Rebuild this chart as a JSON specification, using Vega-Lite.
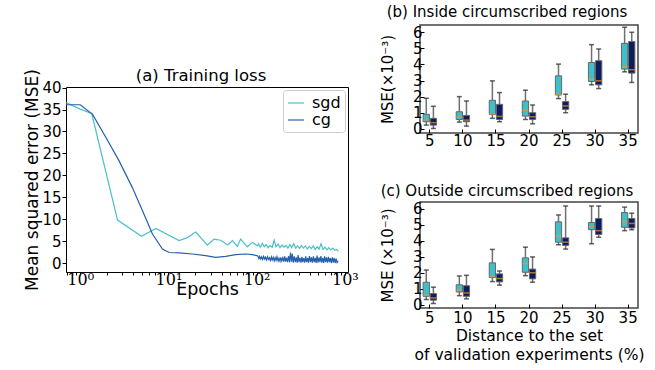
{
  "$schema": "https://vega.github.io/schema/vega-lite/v6.json",
  "padding": {"left": 23, "top": 4, "right": 0, "bottom": 0},
  "background": "white",
  "config": {
    "font": "DejaVu Sans",
    "axis": {"grid": false, "domain": false, "labelOverlap": false, "labelColor": "#000", "titleColor": "#000", "tickColor": "#000", "titleFontWeight": "normal", "labelFont": "DejaVu Sans", "titleFont": "DejaVu Sans"},
    "title": {"fontWeight": "normal", "color": "#000", "font": "DejaVu Sans"},
    "legend": {"labelColor": "#000"},
    "view": {"stroke": "#000"}
  },
  "datasets": {
    "loss": [
      {"method": "sgd", "epoch": 0.69, "mse": 36.6},
      {"method": "sgd", "epoch": 1, "mse": 35.1},
      {"method": "sgd", "epoch": 1.35, "mse": 34.1},
      {"method": "sgd", "epoch": 2.65, "mse": 9.8},
      {"method": "sgd", "epoch": 4.95, "mse": 6.1},
      {"method": "sgd", "epoch": 7.2, "mse": 7.9},
      {"method": "sgd", "epoch": 13.2, "mse": 5.1},
      {"method": "sgd", "epoch": 16.4, "mse": 5.8},
      {"method": "sgd", "epoch": 20.4, "mse": 7.05},
      {"method": "sgd", "epoch": 27.7, "mse": 4.1},
      {"method": "sgd", "epoch": 32.9, "mse": 5.45},
      {"method": "sgd", "epoch": 39, "mse": 5.2},
      {"method": "sgd", "epoch": 47.3, "mse": 4.1},
      {"method": "sgd", "epoch": 53, "mse": 5.1},
      {"method": "sgd", "epoch": 60.4, "mse": 3.8},
      {"method": "sgd", "epoch": 65.9, "mse": 5.45},
      {"method": "sgd", "epoch": 78.4, "mse": 3.7},
      {"method": "sgd", "epoch": 89.4, "mse": 4.7},
      {"method": "sgd", "epoch": 102, "mse": 3.9},
      {"method": "sgd", "epoch": 105, "mse": 4.4},
      {"method": "sgd", "epoch": 110, "mse": 3.6},
      {"method": "sgd", "epoch": 116, "mse": 4.5},
      {"method": "sgd", "epoch": 122, "mse": 3.7},
      {"method": "sgd", "epoch": 128, "mse": 4.2},
      {"method": "sgd", "epoch": 135, "mse": 3.5},
      {"method": "sgd", "epoch": 142, "mse": 4.0},
      {"method": "sgd", "epoch": 150, "mse": 3.6},
      {"method": "sgd", "epoch": 158, "mse": 5.2},
      {"method": "sgd", "epoch": 166, "mse": 3.7},
      {"method": "sgd", "epoch": 175, "mse": 4.3},
      {"method": "sgd", "epoch": 184, "mse": 3.5},
      {"method": "sgd", "epoch": 194, "mse": 4.1},
      {"method": "sgd", "epoch": 204, "mse": 3.6},
      {"method": "sgd", "epoch": 215, "mse": 4.0},
      {"method": "sgd", "epoch": 226, "mse": 3.4},
      {"method": "sgd", "epoch": 238, "mse": 4.2},
      {"method": "sgd", "epoch": 250, "mse": 3.5},
      {"method": "sgd", "epoch": 263, "mse": 4.4},
      {"method": "sgd", "epoch": 277, "mse": 3.4},
      {"method": "sgd", "epoch": 291, "mse": 3.9},
      {"method": "sgd", "epoch": 306, "mse": 3.3},
      {"method": "sgd", "epoch": 322, "mse": 4.0},
      {"method": "sgd", "epoch": 339, "mse": 3.4},
      {"method": "sgd", "epoch": 357, "mse": 3.9},
      {"method": "sgd", "epoch": 376, "mse": 3.2},
      {"method": "sgd", "epoch": 395, "mse": 3.8},
      {"method": "sgd", "epoch": 416, "mse": 3.3},
      {"method": "sgd", "epoch": 438, "mse": 3.9},
      {"method": "sgd", "epoch": 461, "mse": 3.1},
      {"method": "sgd", "epoch": 485, "mse": 3.7},
      {"method": "sgd", "epoch": 510, "mse": 3.2},
      {"method": "sgd", "epoch": 537, "mse": 4.4},
      {"method": "sgd", "epoch": 565, "mse": 3.1},
      {"method": "sgd", "epoch": 594, "mse": 3.6},
      {"method": "sgd", "epoch": 625, "mse": 3.0},
      {"method": "sgd", "epoch": 658, "mse": 3.5},
      {"method": "sgd", "epoch": 692, "mse": 3.0},
      {"method": "sgd", "epoch": 728, "mse": 3.4},
      {"method": "sgd", "epoch": 766, "mse": 2.9},
      {"method": "sgd", "epoch": 806, "mse": 3.1},
      {"method": "sgd", "epoch": 840, "mse": 2.7},
      {"method": "cg", "epoch": 0.69, "mse": 36.1},
      {"method": "cg", "epoch": 1, "mse": 36.1},
      {"method": "cg", "epoch": 1.38, "mse": 33.9},
      {"method": "cg", "epoch": 1.95, "mse": 28.7},
      {"method": "cg", "epoch": 2.76, "mse": 23.3},
      {"method": "cg", "epoch": 3.9, "mse": 17.2},
      {"method": "cg", "epoch": 5.08, "mse": 11.9},
      {"method": "cg", "epoch": 6.59, "mse": 6.6},
      {"method": "cg", "epoch": 8.55, "mse": 3.2},
      {"method": "cg", "epoch": 10.2, "mse": 2.4},
      {"method": "cg", "epoch": 13.2, "mse": 2.3},
      {"method": "cg", "epoch": 18.7, "mse": 2.05},
      {"method": "cg", "epoch": 26.4, "mse": 1.7},
      {"method": "cg", "epoch": 34.3, "mse": 1.3},
      {"method": "cg", "epoch": 44.6, "mse": 1.5},
      {"method": "cg", "epoch": 57.8, "mse": 1.9},
      {"method": "cg", "epoch": 75, "mse": 2.05},
      {"method": "cg", "epoch": 89.4, "mse": 1.9},
      {"method": "cg", "epoch": 100, "mse": 1.7},
      {"method": "cg", "epoch": 103, "mse": 1.6},
      {"method": "cg", "epoch": 106, "mse": 1.0},
      {"method": "cg", "epoch": 108, "mse": 1.5},
      {"method": "cg", "epoch": 111, "mse": 0.9},
      {"method": "cg", "epoch": 114, "mse": 1.4},
      {"method": "cg", "epoch": 117, "mse": 0.8},
      {"method": "cg", "epoch": 120, "mse": 1.5},
      {"method": "cg", "epoch": 123, "mse": 0.9},
      {"method": "cg", "epoch": 126, "mse": 1.3},
      {"method": "cg", "epoch": 129, "mse": 0.7},
      {"method": "cg", "epoch": 133, "mse": 1.4},
      {"method": "cg", "epoch": 136, "mse": 0.8},
      {"method": "cg", "epoch": 140, "mse": 1.2},
      {"method": "cg", "epoch": 143, "mse": 0.6},
      {"method": "cg", "epoch": 147, "mse": 1.4},
      {"method": "cg", "epoch": 150, "mse": 0.7},
      {"method": "cg", "epoch": 154, "mse": 1.3},
      {"method": "cg", "epoch": 158, "mse": 0.5},
      {"method": "cg", "epoch": 162, "mse": 1.2},
      {"method": "cg", "epoch": 166, "mse": 0.6},
      {"method": "cg", "epoch": 170, "mse": 1.4},
      {"method": "cg", "epoch": 175, "mse": 0.5},
      {"method": "cg", "epoch": 179, "mse": 1.1},
      {"method": "cg", "epoch": 184, "mse": 0.4},
      {"method": "cg", "epoch": 188, "mse": 1.3},
      {"method": "cg", "epoch": 193, "mse": 0.5},
      {"method": "cg", "epoch": 198, "mse": 1.2},
      {"method": "cg", "epoch": 203, "mse": 0.3},
      {"method": "cg", "epoch": 208, "mse": 1.5},
      {"method": "cg", "epoch": 213, "mse": 0.3},
      {"method": "cg", "epoch": 219, "mse": 1.2},
      {"method": "cg", "epoch": 224, "mse": 0.2},
      {"method": "cg", "epoch": 230, "mse": 1.6},
      {"method": "cg", "epoch": 236, "mse": 0.2},
      {"method": "cg", "epoch": 242, "mse": 2.4},
      {"method": "cg", "epoch": 248, "mse": 0.3},
      {"method": "cg", "epoch": 254, "mse": 2.1},
      {"method": "cg", "epoch": 260, "mse": 0.1},
      {"method": "cg", "epoch": 267, "mse": 1.5},
      {"method": "cg", "epoch": 274, "mse": 0.2},
      {"method": "cg", "epoch": 281, "mse": 1.3},
      {"method": "cg", "epoch": 288, "mse": 0.1},
      {"method": "cg", "epoch": 295, "mse": 1.8},
      {"method": "cg", "epoch": 302, "mse": 0.2},
      {"method": "cg", "epoch": 310, "mse": 1.2},
      {"method": "cg", "epoch": 318, "mse": 0.1},
      {"method": "cg", "epoch": 326, "mse": 1.4},
      {"method": "cg", "epoch": 334, "mse": 0.2},
      {"method": "cg", "epoch": 342, "mse": 1.1},
      {"method": "cg", "epoch": 351, "mse": 0.1},
      {"method": "cg", "epoch": 360, "mse": 1.5},
      {"method": "cg", "epoch": 369, "mse": 0.2},
      {"method": "cg", "epoch": 378, "mse": 1.2},
      {"method": "cg", "epoch": 387, "mse": 0.1},
      {"method": "cg", "epoch": 397, "mse": 1.6},
      {"method": "cg", "epoch": 407, "mse": 0.2},
      {"method": "cg", "epoch": 417, "mse": 1.3},
      {"method": "cg", "epoch": 428, "mse": 0.1},
      {"method": "cg", "epoch": 439, "mse": 1.5},
      {"method": "cg", "epoch": 450, "mse": 0.2},
      {"method": "cg", "epoch": 461, "mse": 1.2},
      {"method": "cg", "epoch": 472, "mse": 0.0},
      {"method": "cg", "epoch": 484, "mse": 1.7},
      {"method": "cg", "epoch": 496, "mse": 0.1},
      {"method": "cg", "epoch": 509, "mse": 1.3},
      {"method": "cg", "epoch": 522, "mse": 0.2},
      {"method": "cg", "epoch": 535, "mse": 1.6},
      {"method": "cg", "epoch": 548, "mse": 0.1},
      {"method": "cg", "epoch": 562, "mse": 1.2},
      {"method": "cg", "epoch": 576, "mse": 0.0},
      {"method": "cg", "epoch": 590, "mse": 1.5},
      {"method": "cg", "epoch": 605, "mse": 0.2},
      {"method": "cg", "epoch": 620, "mse": 1.3},
      {"method": "cg", "epoch": 636, "mse": 0.1},
      {"method": "cg", "epoch": 652, "mse": 1.4},
      {"method": "cg", "epoch": 668, "mse": 0.2},
      {"method": "cg", "epoch": 685, "mse": 1.1},
      {"method": "cg", "epoch": 702, "mse": 0.0},
      {"method": "cg", "epoch": 720, "mse": 1.3},
      {"method": "cg", "epoch": 738, "mse": 0.1},
      {"method": "cg", "epoch": 756, "mse": 1.2},
      {"method": "cg", "epoch": 775, "mse": 0.0},
      {"method": "cg", "epoch": 795, "mse": 1.0},
      {"method": "cg", "epoch": 815, "mse": 0.1},
      {"method": "cg", "epoch": 840, "mse": 0.5}
    ],
    "boxes": [
      {"panel": "b", "dist": 5, "method": "sgd", "lo": 0.23, "q1": 0.44, "med": 0.55, "q3": 0.9, "hi": 1.9},
      {"panel": "b", "dist": 5, "method": "cg", "lo": 0.02, "q1": 0.23, "med": 0.38, "q3": 0.65, "hi": 1.4},
      {"panel": "b", "dist": 10, "method": "sgd", "lo": 0.42, "q1": 0.58, "med": 0.73, "q3": 1.06, "hi": 2.0},
      {"panel": "b", "dist": 10, "method": "cg", "lo": 0.17, "q1": 0.44, "med": 0.54, "q3": 0.83, "hi": 1.73},
      {"panel": "b", "dist": 15, "method": "sgd", "lo": 0.65, "q1": 0.9, "med": 0.94, "q3": 1.77, "hi": 2.98},
      {"panel": "b", "dist": 15, "method": "cg", "lo": 0.44, "q1": 0.58, "med": 0.77, "q3": 1.52, "hi": 2.25},
      {"panel": "b", "dist": 20, "method": "sgd", "lo": 0.58, "q1": 0.79, "med": 1.15, "q3": 1.73, "hi": 2.4},
      {"panel": "b", "dist": 20, "method": "cg", "lo": 0.31, "q1": 0.58, "med": 0.75, "q3": 1.0, "hi": 1.48},
      {"panel": "b", "dist": 25, "method": "sgd", "lo": 1.88, "q1": 2.1, "med": 2.15, "q3": 3.29, "hi": 4.02},
      {"panel": "b", "dist": 25, "method": "cg", "lo": 1.0, "q1": 1.21, "med": 1.42, "q3": 1.69, "hi": 2.15},
      {"panel": "b", "dist": 30, "method": "sgd", "lo": 2.73, "q1": 2.94, "med": 3.08, "q3": 4.12, "hi": 5.23},
      {"panel": "b", "dist": 30, "method": "cg", "lo": 2.5, "q1": 2.73, "med": 2.98, "q3": 4.23, "hi": 4.96},
      {"panel": "b", "dist": 35, "method": "sgd", "lo": 3.54, "q1": 3.71, "med": 3.85, "q3": 5.31, "hi": 6.31},
      {"panel": "b", "dist": 35, "method": "cg", "lo": 2.88, "q1": 3.46, "med": 3.67, "q3": 5.42, "hi": 6.0},
      {"panel": "c", "dist": 5, "method": "sgd", "lo": 0.33, "q1": 0.53, "med": 0.59, "q3": 1.41, "hi": 2.17},
      {"panel": "c", "dist": 5, "method": "cg", "lo": 0.08, "q1": 0.29, "med": 0.43, "q3": 0.7, "hi": 1.1},
      {"panel": "c", "dist": 10, "method": "sgd", "lo": 0.57, "q1": 0.8, "med": 0.9, "q3": 1.25, "hi": 1.8},
      {"panel": "c", "dist": 10, "method": "cg", "lo": 0.37, "q1": 0.53, "med": 0.74, "q3": 1.19, "hi": 1.84},
      {"panel": "c", "dist": 15, "method": "sgd", "lo": 1.45, "q1": 1.7, "med": 1.76, "q3": 2.62, "hi": 3.46},
      {"panel": "c", "dist": 15, "method": "cg", "lo": 1.23, "q1": 1.43, "med": 1.64, "q3": 1.93, "hi": 2.11},
      {"panel": "c", "dist": 20, "method": "sgd", "lo": 1.82, "q1": 2.03, "med": 2.58, "q3": 2.93, "hi": 3.6},
      {"panel": "c", "dist": 20, "method": "cg", "lo": 1.41, "q1": 1.62, "med": 2.0, "q3": 2.23, "hi": 2.99},
      {"panel": "c", "dist": 25, "method": "sgd", "lo": 3.75, "q1": 3.91, "med": 4.3, "q3": 5.18, "hi": 5.61},
      {"panel": "c", "dist": 25, "method": "cg", "lo": 3.48, "q1": 3.71, "med": 3.91, "q3": 4.18, "hi": 6.17},
      {"panel": "c", "dist": 30, "method": "sgd", "lo": 3.81, "q1": 4.69, "med": 4.88, "q3": 5.14, "hi": 6.17},
      {"panel": "c", "dist": 30, "method": "cg", "lo": 4.22, "q1": 4.39, "med": 4.63, "q3": 5.39, "hi": 6.17},
      {"panel": "c", "dist": 35, "method": "sgd", "lo": 4.63, "q1": 4.84, "med": 5.2, "q3": 5.76, "hi": 6.1},
      {"panel": "c", "dist": 35, "method": "cg", "lo": 4.69, "q1": 4.8, "med": 5.08, "q3": 5.39, "hi": 5.72}
    ]
  },
  "resolve": {"scale": {"color": "independent", "y": "independent", "x": "independent"}, "legend": {"color": "independent"}},
  "spacing": 20,
  "hconcat": [
    {
      "spacing": 0,
      "resolve": {"scale": {"color": "independent"}, "legend": {"color": "independent"}},
      "vconcat": [
        {
          "width": 282, "height": 42,
          "data": {"values": [{"a": 1}]},
          "mark": {"type": "point", "opacity": 0},
          "encoding": {},
          "view": {"stroke": null}
        },
        {
          "width": 282, "height": 185,
          "title": {"text": "(a) Training loss", "fontSize": 16.5, "offset": -16, "dx": -6, "frame": "group"},
          "data": {"name": "loss"},
          "view": {"stroke": "#000", "strokeWidth": 1},
          "mark": {"type": "line", "strokeWidth": 1.2, "clip": true},
          "encoding": {
            "x": {"field": "epoch", "type": "quantitative",
                  "scale": {"type": "log", "domain": [0.69, 1085], "nice": false},
                  "axis": {"values": [0.7, 0.8, 0.9, 1, 2, 3, 4, 5, 6, 7, 8, 9, 10, 20, 30, 40, 50, 60, 70, 80, 90, 100, 200, 300, 400, 500, 600, 700, 800, 900, 1000],
                           "labelExpr": "datum.value == 1 ? '10⁰' : datum.value == 10 ? '10¹' : datum.value == 100 ? '10²' : datum.value == 1000 ? '10³' : ''",
                           "labelFont": "DejaVu Serif", "labelFontSize": 16, "tickSize": 3, "labelPadding": -4,
                           "title": "Epochs", "titleFontSize": 17.5, "titlePadding": -7}},
            "y": {"field": "mse", "type": "quantitative",
                  "scale": {"domain": [-2.05, 40.15], "nice": false, "zero": false},
                  "axis": {"values": [0, 5, 10, 15, 20, 25, 30, 35, 40], "labelOverlap": false, "labelFontSize": 15, "tickSize": 4, "labelPadding": 1,
                           "title": "Mean squared error (MSE)", "titleFontSize": 17, "titlePadding": 0}},
            "color": {"field": "method", "type": "nominal",
                      "scale": {"domain": ["sgd", "cg"], "range": ["#4bbfcb", "#2460ab"]},
                      "legend": {"title": null, "orient": "top-right", "offset": 3, "symbolType": "stroke", "symbolSize": 250,
                                 "symbolStrokeWidth": 1.2, "labelFontSize": 16, "padding": 4, "rowPadding": -8,
                                 "strokeColor": "#cccccc", "fillColor": "white", "cornerRadius": 3, "labelOffset": 7}}
          }
        }
      ]
    },
    {
      "spacing": 32,
      "resolve": {"scale": {"y": "independent"}},
      "vconcat": [
        {
          "width": 218, "height": 108,
          "title": {"text": "(b) Inside circumscribed regions", "fontSize": 15, "offset": 5, "dx": -22, "frame": "group"},
          "data": {"name": "boxes"},
          "transform": [{"filter": "datum.panel == 'b'"}],
          "view": {"stroke": "#444", "strokeWidth": 1.5},
          "encoding": {
            "x": {"field": "dist", "type": "ordinal", "scale": {"paddingInner": 0.595, "paddingOuter": 0.095},
                  "axis": {"title": null, "labelAngle": 0, "labelFontSize": 15, "tickSize": -4, "labelPadding": 4.5}},
            "xOffset": {"field": "method", "type": "nominal", "scale": {"domain": ["sgd", "cg"], "paddingInner": 0.12, "paddingOuter": 0}}
          },
          "layer": [
            {"mark": {"type": "rule", "color": "#707070", "strokeWidth": 1.5},
             "encoding": {"y": {"field": "lo", "type": "quantitative", "scale": {"domain": [-0.26, 6.45], "nice": false, "zero": false},
                                "axis": {"values": [0, 1, 2, 3, 4, 5, 6], "labelOverlap": false, "labelFontSize": 15, "tickSize": -4, "labelPadding": 2,
                                         "title": "MSE(×10⁻³)", "titleFontSize": 15, "titlePadding": 17}},
                          "y2": {"field": "hi"}}},
            {"mark": {"type": "bar", "stroke": "#666", "strokeWidth": 1},
             "encoding": {"y": {"field": "q1", "type": "quantitative",
                                "axis": {"values": [0, 1, 2, 3, 4, 5, 6], "labelOverlap": false, "labelFontSize": 15, "tickSize": -4, "labelPadding": 2,
                                         "title": "MSE(×10⁻³)", "titleFontSize": 15, "titlePadding": 17}},
                          "y2": {"field": "q3"},
                          "fill": {"field": "method", "type": "nominal", "scale": {"domain": ["sgd", "cg"], "range": ["#3fbfca", "#0c1d5e"]}, "legend": null}}},
            {"mark": {"type": "tick", "color": "#222", "thickness": 1.5, "size": 5},
             "encoding": {"y": {"field": "lo", "type": "quantitative",
                                "axis": {"values": [0, 1, 2, 3, 4, 5, 6], "labelOverlap": false, "labelFontSize": 15, "tickSize": -4, "labelPadding": 2,
                                         "title": "MSE(×10⁻³)", "titleFontSize": 15, "titlePadding": 17}}}},
            {"mark": {"type": "tick", "color": "#222", "thickness": 1.5, "size": 5},
             "encoding": {"y": {"field": "hi", "type": "quantitative",
                                "axis": {"values": [0, 1, 2, 3, 4, 5, 6], "labelOverlap": false, "labelFontSize": 15, "tickSize": -4, "labelPadding": 2,
                                         "title": "MSE(×10⁻³)", "titleFontSize": 15, "titlePadding": 17}}}},
            {"mark": {"type": "tick", "color": "#f5962a", "thickness": 1.5, "size": 6},
             "encoding": {"y": {"field": "med", "type": "quantitative",
                                "axis": {"values": [0, 1, 2, 3, 4, 5, 6], "labelOverlap": false, "labelFontSize": 15, "tickSize": -4, "labelPadding": 2,
                                         "title": "MSE(×10⁻³)", "titleFontSize": 15, "titlePadding": 17}}}}
          ]
        },
        {
          "width": 218, "height": 106,
          "title": {"text": "(c) Outside circumscribed regions", "fontSize": 15, "offset": 3, "dx": -22, "frame": "group"},
          "data": {"name": "boxes"},
          "transform": [{"filter": "datum.panel == 'c'"}],
          "view": {"stroke": "#444", "strokeWidth": 1.5},
          "encoding": {
            "x": {"field": "dist", "type": "ordinal", "scale": {"paddingInner": 0.595, "paddingOuter": 0.095},
                  "axis": {"title": ["Distance to the set", "of validation experiments (%)"], "titleFontSize": 15.5, "titleLineHeight": 19, "titlePadding": 3,
                           "labelAngle": 0, "labelFontSize": 15, "tickSize": -4, "labelPadding": 6.5}},
            "xOffset": {"field": "method", "type": "nominal", "scale": {"domain": ["sgd", "cg"], "paddingInner": 0.12, "paddingOuter": 0}}
          },
          "layer": [
            {"mark": {"type": "rule", "color": "#707070", "strokeWidth": 1.5},
             "encoding": {"y": {"field": "lo", "type": "quantitative", "scale": {"domain": [-0.2, 6.42], "nice": false, "zero": false},
                                "axis": {"values": [0, 1, 2, 3, 4, 5, 6], "labelOverlap": false, "labelFontSize": 15, "tickSize": -4, "labelPadding": 2,
                                         "title": "MSE (×10⁻³)", "titleFontSize": 15, "titlePadding": 17}},
                          "y2": {"field": "hi"}}},
            {"mark": {"type": "bar", "stroke": "#666", "strokeWidth": 1},
             "encoding": {"y": {"field": "q1", "type": "quantitative",
                                "axis": {"values": [0, 1, 2, 3, 4, 5, 6], "labelOverlap": false, "labelFontSize": 15, "tickSize": -4, "labelPadding": 2,
                                         "title": "MSE (×10⁻³)", "titleFontSize": 15, "titlePadding": 17}},
                          "y2": {"field": "q3"},
                          "fill": {"field": "method", "type": "nominal", "scale": {"domain": ["sgd", "cg"], "range": ["#3fbfca", "#0c1d5e"]}, "legend": null}}},
            {"mark": {"type": "tick", "color": "#222", "thickness": 1.5, "size": 5},
             "encoding": {"y": {"field": "lo", "type": "quantitative",
                                "axis": {"values": [0, 1, 2, 3, 4, 5, 6], "labelOverlap": false, "labelFontSize": 15, "tickSize": -4, "labelPadding": 2,
                                         "title": "MSE (×10⁻³)", "titleFontSize": 15, "titlePadding": 17}}}},
            {"mark": {"type": "tick", "color": "#222", "thickness": 1.5, "size": 5},
             "encoding": {"y": {"field": "hi", "type": "quantitative",
                                "axis": {"values": [0, 1, 2, 3, 4, 5, 6], "labelOverlap": false, "labelFontSize": 15, "tickSize": -4, "labelPadding": 2,
                                         "title": "MSE (×10⁻³)", "titleFontSize": 15, "titlePadding": 17}}}},
            {"mark": {"type": "tick", "color": "#f5962a", "thickness": 1.5, "size": 6},
             "encoding": {"y": {"field": "med", "type": "quantitative",
                                "axis": {"values": [0, 1, 2, 3, 4, 5, 6], "labelOverlap": false, "labelFontSize": 15, "tickSize": -4, "labelPadding": 2,
                                         "title": "MSE (×10⁻³)", "titleFontSize": 15, "titlePadding": 17}}}}
          ]
        }
      ]
    }
  ]
}
